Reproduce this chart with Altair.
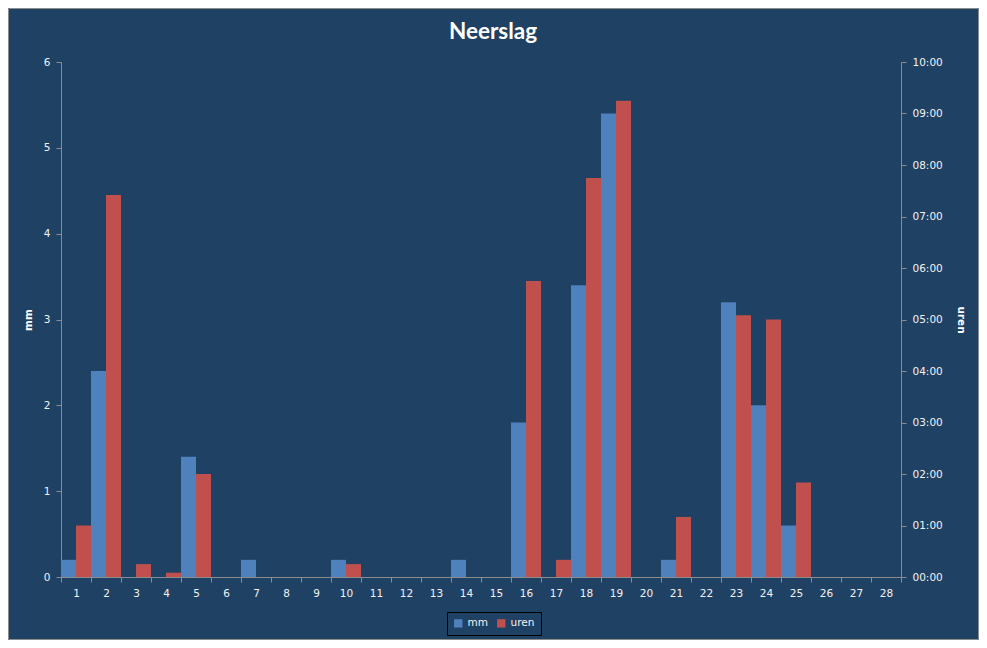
import altair as alt
import pandas as pd

# -----------------------------
# Data
# -----------------------------
DAYS = list(range(1, 29))
MM = [0.2, 2.4, 0, 0, 1.4, 0, 0.2, 0, 0, 0.2, 0, 0, 0, 0.2, 0,
      1.8, 0, 3.4, 5.4, 0, 0.2, 0, 3.2, 2.0, 0.6, 0, 0, 0]
# duration of rain per day, in minutes
UREN_MIN = [60, 445, 15, 5, 120, 0, 0, 0, 0, 15, 0, 0, 0, 0, 0,
            345, 20, 465, 555, 0, 70, 0, 305, 300, 110, 0, 0, 0]
SERIES = ["mm", "uren"]
COLORS = ["#4F81BD", "#C0504D"]
MM_TICKS = [0, 1, 2, 3, 4, 5, 6]
HOUR_TICKS = [0, 60, 120, 180, 240, 300, 360, 420, 480, 540, 600]
TITLE = "Neerslag"

# -----------------------------
# Styling
# -----------------------------
BG = "#1F4164"
AXIS_GRAY = "#8C8C8C"
TEXT = "#F2F2F2"
W, H = 840, 515
PAD = {"left": 53, "top": 54, "right": 78, "bottom": 63}

df = pd.DataFrame({"dag": DAYS, "mm": MM, "uren": UREN_MIN})

x_enc = alt.X(
    "dag:O",
    title=None,
    scale=alt.Scale(paddingInner=0, paddingOuter=0),
    axis=alt.Axis(labelAngle=0, tickBand="extent", labelPadding=6),
)
xoff = alt.XOffset("reeks:N", scale=alt.Scale(domain=SERIES, paddingInner=0, paddingOuter=0))
color = alt.Color(
    "reeks:N",
    scale=alt.Scale(domain=SERIES, range=COLORS),
    legend=alt.Legend(
        title=None,
        orient="none",
        legendX=386,
        legendY=550,
        direction="horizontal",
        symbolType="square",
        symbolSize=70,
        symbolStrokeWidth=0,
        labelColor=TEXT,
        labelFont="DejaVu Sans",
        labelFontSize=10.5,
        strokeColor="black",
        fillColor=BG,
        padding=6,
        columnPadding=8,
        labelOffset=4,
    ),
)

mm_bars = (
    alt.Chart(df)
    .transform_calculate(reeks="'mm'")
    .mark_bar()
    .encode(
        x=x_enc,
        xOffset=xoff,
        color=color,
        y=alt.Y(
            "mm:Q",
            title="mm",
            scale=alt.Scale(domain=[0, 6], nice=False),
            axis=alt.Axis(orient="left", values=MM_TICKS, titleX=-28, labelPadding=6),
        ),
    )
)

uren_bars = (
    alt.Chart(df)
    .transform_calculate(reeks="'uren'")
    .mark_bar()
    .encode(
        x=x_enc,
        xOffset=xoff,
        color=color,
        y=alt.Y(
            "uren:Q",
            title="uren",
            scale=alt.Scale(domain=[0, 600], nice=False),
            axis=alt.Axis(
                orient="right",
                values=HOUR_TICKS,
                labelExpr="(datum.value < 600 ? '0' : '') + floor(datum.value / 60) + ':00'",
                titleX=54,
                titleAngle=90,
                labelPadding=6,
            ),
        ),
    )
)

# thin gray frame round the whole chart
frame = (
    alt.Chart(pd.DataFrame({"f": [0]}))
    .mark_rect(filled=False, stroke=AXIS_GRAY, strokeWidth=1)
    .encode(
        x=alt.value(-PAD["left"] + 0.5),
        x2=alt.value(W + PAD["right"] - 0.5),
        y=alt.value(-PAD["top"] + 0.5),
        y2=alt.value(H + PAD["bottom"] - 0.5),
    )
)

# chart title, drawn as text so the frame does not push it off the page
title = (
    alt.Chart(pd.DataFrame({"t": [TITLE]}))
    .mark_text(font="Lato", fontSize=22.5, fontWeight="bold", color="white",
               align="center", baseline="alphabetic")
    .encode(text="t:N", x=alt.value(432), y=alt.value(-23))
)

chart = (
    alt.layer(mm_bars, uren_bars, frame, title)
    .resolve_scale(y="independent")
    .properties(
        width=W,
        height=H,
        autosize=alt.AutoSizeParams(type="none"),
        padding=PAD,
        background=BG,
    )
    .configure_axis(
        domainColor=AXIS_GRAY,
        tickColor=AXIS_GRAY,
        tickSize=5,
        labelColor=TEXT,
        labelFont="DejaVu Sans",
        labelFontSize=10.5,
        titleColor="white",
        titleFont="DejaVu Sans",
        titleFontWeight="bold",
        titleFontSize=10.5,
        grid=False,
    )
    .configure_view(stroke=None)
)

chart.save("out.html", embed_options={"renderer": "svg", "actions": False})
